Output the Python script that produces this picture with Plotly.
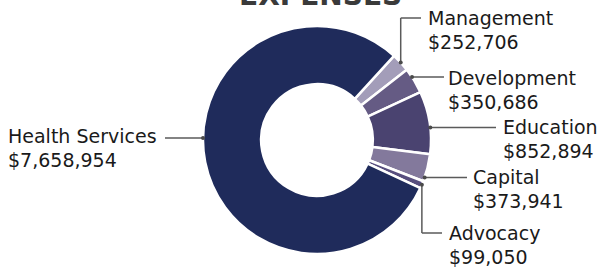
import math
import plotly.graph_objects as go

categories = ["Management", "Development", "Education", "Capital", "Advocacy", "Health Services"]
values = [252706, 350686, 852894, 373941, 99050, 7658954]
value_labels = ["$252,706", "$350,686", "$852,894", "$373,941", "$99,050", "$7,658,954"]
colors = ["#a39db9", "#655b84", "#4a4370", "#83799c", "#574e7e", "#1f2b5b"]

W, H = 603, 269
cx, cy, R = 317, 140, 114
start_deg = 42.5

def px_x(x):
    return x / W

def px_y(y):
    return 1 - y / H

fig = go.Figure()
fig.add_trace(go.Pie(
    labels=categories, values=values, sort=False, direction="clockwise",
    rotation=start_deg, hole=0.49, textinfo="none", hoverinfo="label+value",
    marker=dict(colors=colors, line=dict(color="white", width=2.5)),
    domain=dict(x=[(cx - R) / W, (cx + R) / W], y=[(H - cy - R) / H, (H - cy + R) / H]),
    showlegend=False,
))

total = sum(values)
mids = []
acc = start_deg
for v in values:
    span = v / total * 360
    mids.append(acc + span / 2)
    acc += span

def on_circle(ang):
    a = math.radians(ang)
    return cx + R * math.sin(a), cy - R * math.cos(a)

def at_y(y, right=True):
    dx = math.sqrt(max(R * R - (y - cy) ** 2, 0))
    return (cx + dx if right else cx - dx), y

line_col = "#5a5a5a"
shapes = []
dots = []
annos = []
font = dict(family="DejaVu Sans", size=19, color="#1a1a1a")

layout_spec = {
    "Management": ("elbow_up", 426, 18, 421),
    "Development": ("h", 446, 78, 444),
    "Education": ("h", 501, 127, 496),
    "Capital": ("h", 471, 177, 467),
    "Advocacy": ("elbow_down", 447, 233, 442),
    "Health Services": ("hl", 6, 136, 165),
}

def line(x0, y0, x1, y1):
    return dict(type="line", xref="paper", yref="paper",
                x0=px_x(x0), y0=px_y(y0), x1=px_x(x1), y1=px_y(y1),
                line=dict(color=line_col, width=1.5))

for i, c in enumerate(categories):
    kind, lx, ly, ex = layout_spec[c]
    if kind.startswith("elbow"):
        px, py = on_circle(mids[i])
        shapes.append(line(px, py, px, ly))
        shapes.append(line(px, ly, ex, ly))
    elif kind == "h":
        px, py = at_y(ly + 0.5 if c != "Development" else ly - 1)
        shapes.append(line(px, py, ex, py))
    else:
        px, py = at_y(ly + 2, right=False)
        shapes.append(line(ex, py, px, py))
    dots.append((px, py))
    annos.append(dict(x=px_x(lx), y=px_y(ly), xref="paper", yref="paper", text=c,
                      xanchor="left", yanchor="middle", showarrow=False, font=font))
    annos.append(dict(x=px_x(lx), y=px_y(ly + 24), xref="paper", yref="paper", text=value_labels[i],
                      xanchor="left", yanchor="middle", showarrow=False, font=font))

for (px, py) in dots:
    shapes.append(dict(type="circle", xref="paper", yref="paper",
                       x0=px_x(px - 2), y0=px_y(py - 2), x1=px_x(px + 2), y1=px_y(py + 2),
                       fillcolor="#4a4a4a", line=dict(width=0)))

annos.append(dict(x=px_x(320), y=px_y(-4), xref="paper", yref="paper", text="<b>EXPENSES</b>",
                  xanchor="center", yanchor="middle", showarrow=False,
                  font=dict(family="DejaVu Sans", size=28, color="#3a3a3a")))

fig.update_layout(
    width=W, height=H, margin=dict(l=0, r=0, t=0, b=0),
    paper_bgcolor="white", plot_bgcolor="rgba(0,0,0,0)",
    shapes=shapes, annotations=annos,
)
fig.write_html("out.html", config={"displayModeBar": False},
               post_script="document.body.style.margin='0';")
